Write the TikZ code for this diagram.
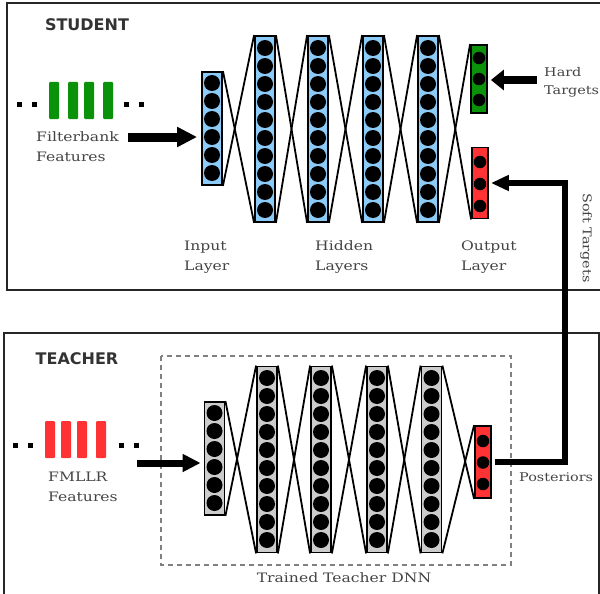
\documentclass[tikz,border=0pt]{standalone}
\usepackage{fontspec}
\setmainfont[FakeStretch=1.2]{DejaVu Serif}
\newfontfamily\headfont{DejaVu Sans}
\usetikzlibrary{arrows.meta}

\definecolor{layerblue}{HTML}{8CCBF8}
\definecolor{layergray}{HTML}{CCCCCC}
\definecolor{featgreen}{HTML}{0A930A}
\definecolor{featred}{HTML}{FF3333}
\definecolor{txt}{HTML}{444444}
\definecolor{heads}{HTML}{333333}

\begin{document}
\begin{tikzpicture}[x=1pt,y=-1pt,
  frame/.style={draw=black!85, line width=2pt},
  dashframe/.style={draw=black!50, line width=1.8pt, dash pattern=on 5pt off 4pt},
  layerbox/.style={rectangle, draw=black, line width=1.8pt, minimum width=20pt, inner sep=0pt},
  outbox/.style={layerbox, minimum width=16pt},
  neuron/.style={circle, fill=black, minimum size=16pt, inner sep=0pt},
  outneuron/.style={circle, fill=black, minimum size=12.5pt, inner sep=0pt},
  link/.style={line width=1.8pt},
  bar/.style={rectangle, rounded corners=1pt, minimum width=10pt, minimum height=37pt, inner sep=0pt},
  dotmark/.style={rectangle, fill=black, minimum size=5pt, inner sep=0pt},
  lbl/.style={text=txt, font=\fontsize{13}{20}\selectfont, align=left, inner sep=0pt},
  sidelbl/.style={lbl, font=\fontsize{12}{18}\selectfont},
  heading/.style={text=heads, font=\headfont\bfseries\fontsize{16}{16}\selectfont, inner sep=0pt},
  bigarrow/.style={line width=9pt, -{Triangle[length=20pt,width=19pt]}},
  hardarrow/.style={line width=8pt, -{Triangle[length=13pt,width=20pt]}},
  softarrow/.style={line width=6pt, -{Triangle[length=18pt,width=15pt]}},
  teacharrow/.style={line width=7pt, -{Triangle[length=18pt,width=17pt]}}
]
\useasboundingbox (0,0) rectangle (600,594);

% ---------------- student frame ----------------
\draw[frame] (7,3) rectangle (608,290);
\node[heading] (studenthead) at (87,25) {STUDENT};

% filterbank feature frames
\foreach \x [count=\k] in {54,73,89,108}
  \node[bar, fill=featgreen] (fb\k) at (\x,100.5) {};
\foreach \x [count=\k] in {19,34,126,141}
  \node[dotmark] (fbdot\k) at (\x,104) {};
\node[lbl, anchor=west] (fblabel) at (36,147) {Filterbank\\Features};

% student input layer
\node[layerbox, fill=layerblue, minimum height=113pt] (sin) at (212,128.5) {};
\foreach \i in {0,...,5} \node[neuron] (sin-\i) at (212,83+18*\i) {};

% student hidden layers
\foreach \x [count=\k] in {265,318,373,428} {
  \node[layerbox, fill=layerblue, minimum height=186pt] (sh\k) at (\x,129) {};
  \foreach \i in {0,...,9} \node[neuron] (sh\k-\i) at (\x,48+18*\i) {};
}

% student output layers: hard-target and soft-target heads
\node[outbox, fill=featgreen, minimum height=68pt] (sgo) at (479,79) {};
\foreach \i in {0,1,2} \node[outneuron] (sgo-\i) at (479,58+21*\i) {};
\node[outbox, fill=featred, minimum height=71pt] (sro) at (480,183) {};
\foreach \i in {0,1,2} \node[outneuron] (sro-\i) at (480,162+22*\i) {};

% student connections
\draw[link] (sin.north east) -- (sh1.south west);
\draw[link] (sin.south east) -- (sh1.north west);
\foreach \a/\b in {1/2,2/3,3/4} {
  \draw[link] (sh\a.north east) -- (sh\b.south west);
  \draw[link] (sh\a.south east) -- (sh\b.north west);
}
\draw[link] (sh4.north east) -- (sro.south west);
\draw[link] (sh4.south east) -- (sgo.north west);

\node[lbl, anchor=west] (inlabel) at (184,257) {Input\\Layer};
\node[lbl, anchor=west] (hidlabel) at (315,257) {Hidden\\Layers};
\node[lbl, anchor=west] (outlabel) at (461,257) {Output\\Layer};

% hard targets
\node[sidelbl, anchor=west] (hardlabel) at (544,82) {Hard\\Targets};
\coordinate (hardstart) at (537,80);
\draw[hardarrow, shorten >=3pt] (hardstart) -- (sgo.east |- hardstart);

% filterbank arrow
\coordinate (fbstart) at (128,137);
\draw[bigarrow, shorten >=4pt] (fbstart) -- (sin.west |- fbstart);

% ---------------- teacher frame ----------------
\draw[frame] (4,333) rectangle (599,596);
\node[heading] (teacherhead) at (77,359) {TEACHER};
\draw[dashframe] (161,356) rectangle (511,565);
\node[lbl] (dnnlabel) at (344,578) {Trained Teacher DNN};

% FMLLR feature frames
\foreach \x [count=\k] in {50,66,82,101}
  \node[bar, fill=featred] (fm\k) at (\x,439.5) {};
\foreach \x [count=\k] in {15,30,121,136}
  \node[dotmark] (fmdot\k) at (\x,445) {};
\node[lbl, anchor=west] (fmlabel) at (48,487) {FMLLR\\Features};

% teacher input layer
\node[layerbox, fill=layergray, minimum height=113pt] (tin) at (214.5,458.5) {};
\foreach \i in {0,...,5} \node[neuron] (tin-\i) at (214.5,413+18*\i) {};

% teacher hidden layers
\foreach \x [count=\k] in {267,321,377,431.5} {
  \node[layerbox, fill=layergray, minimum height=186pt] (th\k) at (\x,459.5) {};
  \foreach \i in {0,...,9} \node[neuron] (th\k-\i) at (\x,378+18*\i) {};
}

% teacher output layer
\node[outbox, fill=featred, minimum height=72pt] (tout) at (483,462) {};
\foreach \i in {0,1,2} \node[outneuron] (tout-\i) at (483,441+21.5*\i) {};

% teacher connections
\draw[link] (tin.north east) -- (th1.south west);
\draw[link] (tin.south east) -- (th1.north west);
\foreach \a/\b in {1/2,2/3,3/4} {
  \draw[link] (th\a.north east) -- (th\b.south west);
  \draw[link] (th\a.south east) -- (th\b.north west);
}
\draw[link] (th4.north east) -- (tout.south west);
\draw[link] (th4.south east) -- (tout.north west);

% FMLLR arrow
\coordinate (fmstart) at (137,463);
\draw[teacharrow, shorten >=3pt] (fmstart) -- (tin.west |- fmstart);

% posteriors become the soft targets
\node[sidelbl, anchor=west] (postlabel) at (519,477) {Posteriors};
\coordinate (riser) at (565,300);
\draw[softarrow, shorten <=3pt, shorten >=2pt]
  (tout.east) -- (tout.east -| riser) -- (riser |- sro.east) -- (sro.east);
\node[sidelbl, rotate=-90] (softlabel) at (586,238) {Soft Targets};

\end{tikzpicture}
\end{document}
